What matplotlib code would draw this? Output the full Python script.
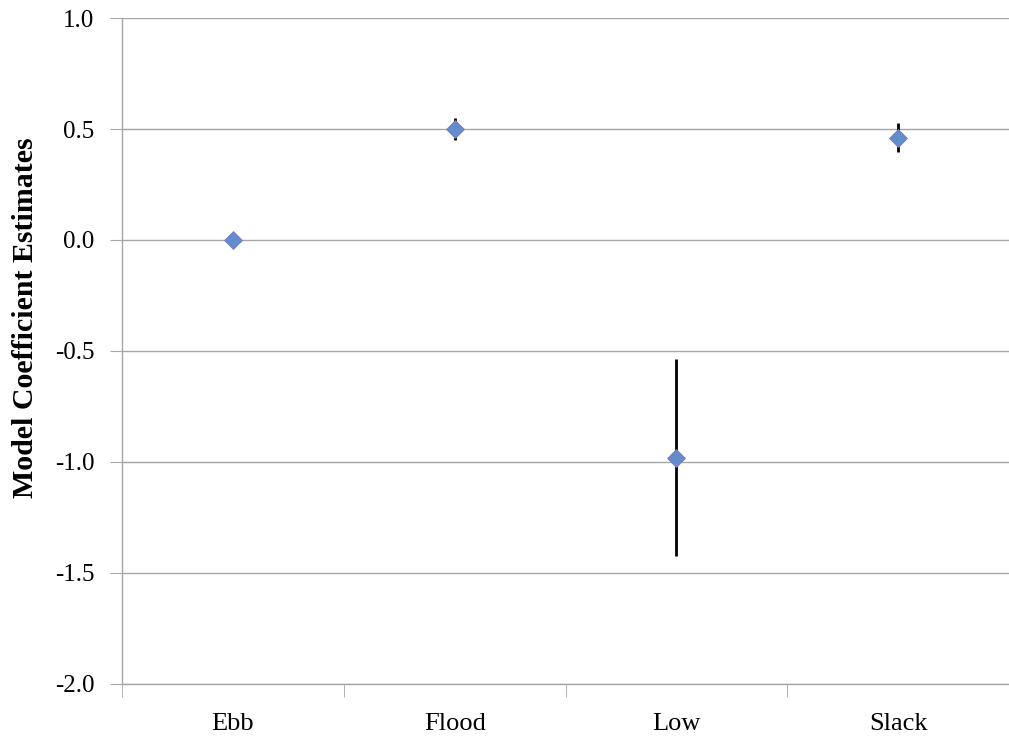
import numpy as np
import matplotlib
matplotlib.use('Agg')
import matplotlib.pyplot as plt

categories = ['Ebb', 'Flood', 'Low', 'Slack']
estimates = [0.0, 0.50, -0.98, 0.46]
errors = [0.0, 0.05, 0.445, 0.065]

plt.rcParams['font.family'] = ['Liberation Serif', 'DejaVu Serif']

fig = plt.figure(figsize=(10.09, 7.38), dpi=100)
ax = fig.add_axes([0.121, 0.0732, 0.879, 0.9024])

x = np.arange(len(categories))
ax.errorbar(x, estimates, yerr=errors, fmt='none', ecolor='black', elinewidth=2, capsize=0, zorder=3)
ax.scatter(x, estimates, marker='D', s=80, color='#628dcc', edgecolors='#7a7fc0', linewidths=0.8, zorder=4)

ax.set_xlim(-0.5, 3.5)
ax.set_ylim(-2.0, 1.0)
yticks = np.arange(-2.0, 1.01, 0.5)
ax.set_yticks(yticks)
ax.set_yticklabels([f'{v:.1f}' for v in yticks])
ax.set_xticks(x)
ax.set_xticklabels(categories)
ax.set_xticks(np.arange(-0.5, 3.6, 1), minor=True)

ax.grid(axis='y', color='#a6a6a6', linewidth=1)
ax.set_axisbelow(True)

for s in ['top', 'right']:
    ax.spines[s].set_visible(False)
for s in ['left', 'bottom']:
    ax.spines[s].set_color('#a6a6a6')
    ax.spines[s].set_linewidth(1)

ax.tick_params(axis='y', direction='out', length=9, color='#a6a6a6', labelsize=18, pad=11)
ax.tick_params(axis='x', which='major', length=0, labelsize=19, pad=21)
ax.tick_params(axis='x', which='minor', direction='out', length=9, color='#a6a6a6')

ax.set_ylabel('Model Coefficient Estimates', fontsize=21.5, fontweight='bold')
ax.yaxis.set_label_coords(-0.094, 0.55)

plt.savefig('out.png', dpi=100)
